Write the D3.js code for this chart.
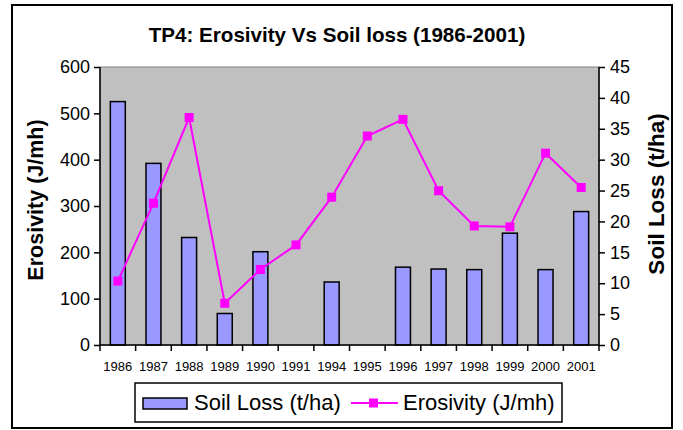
<!DOCTYPE html>
<html>
<head>
<meta charset="utf-8">
<script src="https://cdn.jsdelivr.net/npm/d3@7"></script>
<style>
  body { margin: 0; background: #fff; }
  svg { display: block; font-family: "Liberation Sans", Arial, sans-serif; }
</style>
</head>
<body>
<svg class="chart"></svg>
<script>
// donnees
let annees = ["1986","1987","1988","1989","1990","1991","1994","1995","1996","1997","1998","1999","2000","2001"];
let soilLoss = [39.4, 29.4, 17.4, 5.1, 15.1, null, 10.2, null, 12.6, 12.3, 12.2, 18.1, 12.2, 21.6];
let erosivity = [138, 306, 491, 90, 163, 216, 319, 451, 487, 333, 257, 255, 414, 340];
let ticksGauche = [0, 100, 200, 300, 400, 500, 600];
let ticksDroite = [0, 5, 10, 15, 20, 25, 30, 35, 40, 45];

let w = 683, h = 430;
let margin = {top: 67, right: 84, bottom: 85, left: 100};
let width = w - margin.left - margin.right;
let height = h - margin.top - margin.bottom;

let svg = d3.select(".chart").attr("width", w).attr("height", h);

// cadre exterieur
svg.append("rect")
  .attr("x", 12).attr("y", 5).attr("width", 660).attr("height", 423)
  .attr("fill", "#fff").attr("stroke", "#000").attr("stroke-width", 2);

// titre
svg.append("text")
  .attr("x", 337).attr("y", 42)
  .attr("text-anchor", "middle")
  .attr("font-size", 20.6).attr("font-weight", "bold")
  .text("TP4: Erosivity Vs Soil loss (1986-2001)");

let g = svg.append("g").attr("transform", "translate(" + margin.left + "," + margin.top + ")");

// echelles
let x = d3.scaleBand().domain(annees).range([0, width]).paddingInner(0).paddingOuter(0);
let yG = d3.scaleLinear().domain([0, 600]).range([height, 0]);
let yD = d3.scaleLinear().domain([0, 45]).range([height, 0]);

// fond gris
g.append("rect")
  .attr("width", width).attr("height", height)
  .attr("fill", "#C0C0C0").attr("stroke", "#808080").attr("stroke-width", 1);

// barres
let barW = x.bandwidth() * 0.42;
g.selectAll(".bar")
  .data(annees.map((a, i) => ({annee: a, v: soilLoss[i]})).filter(d => d.v != null))
  .enter().append("rect")
  .attr("class", "bar")
  .attr("x", d => x(d.annee) + (x.bandwidth() - barW) / 2)
  .attr("y", d => yD(d.v))
  .attr("width", barW)
  .attr("height", d => height - yD(d.v))
  .attr("fill", "#9999FF").attr("stroke", "#000").attr("stroke-width", 1.5);

// ligne erosivite
let pts = annees.map((a, i) => ({annee: a, v: erosivity[i]}));
g.append("path")
  .datum(pts)
  .attr("fill", "none").attr("stroke", "#FF00FF").attr("stroke-width", 2)
  .attr("d", d3.line().x(d => x(d.annee) + x.bandwidth() / 2).y(d => yG(d.v)));

g.selectAll(".pt")
  .data(pts)
  .enter().append("rect")
  .attr("class", "pt")
  .attr("x", d => x(d.annee) + x.bandwidth() / 2 - 4.5)
  .attr("y", d => yG(d.v) - 4.5)
  .attr("width", 9).attr("height", 9)
  .attr("fill", "#FF00FF");

// axes
let axeG = g.append("g")
  .call(d3.axisLeft(yG).tickValues(ticksGauche).tickSize(6).tickPadding(4));
let axeD = g.append("g")
  .attr("transform", "translate(" + width + ",0)")
  .call(d3.axisRight(yD).tickValues(ticksDroite).tickSize(6).tickPadding(5));
let axeX = g.append("g")
  .attr("transform", "translate(0," + height + ")")
  .call(d3.axisBottom(x).tickSize(0).tickPadding(17));

// ticks x aux limites des bandes
axeX.selectAll(".lim")
  .data(d3.range(annees.length + 1))
  .enter().append("line")
  .attr("class", "lim")
  .attr("x1", i => i * x.step()).attr("x2", i => i * x.step())
  .attr("y1", 0).attr("y2", 6)
  .attr("stroke", "#000").attr("stroke-width", 1.5);

[axeG, axeD, axeX].forEach(a => {
  a.select(".domain").attr("stroke", "#000").attr("stroke-width", 1.5);
  a.selectAll(".tick line").attr("stroke", "#000").attr("stroke-width", 1.5);
  a.selectAll("text").attr("fill", "#000").attr("font-family", "Liberation Sans, Arial, sans-serif");
});
axeG.selectAll("text").attr("font-size", 18);
axeD.selectAll("text").attr("font-size", 18);
axeX.selectAll("text").attr("font-size", 13);
axeX.select(".domain").attr("d", "M0,0H" + width);
axeG.select(".domain").attr("d", "M0,0V" + height);
axeD.select(".domain").attr("d", "M0,0V" + height);

// titres des axes
svg.append("text")
  .attr("transform", "translate(43,200) rotate(-90)")
  .attr("text-anchor", "middle")
  .attr("font-size", 21.5).attr("font-weight", "bold")
  .text("Erosivity (J/mh)");
svg.append("text")
  .attr("transform", "translate(664,194) rotate(-90)")
  .attr("text-anchor", "middle")
  .attr("font-size", 22.5).attr("font-weight", "bold")
  .text("Soil Loss (t/ha)");

// legende
let leg = svg.append("g");
leg.append("rect")
  .attr("x", 135).attr("y", 383).attr("width", 427).attr("height", 39)
  .attr("fill", "#fff").attr("stroke", "#000").attr("stroke-width", 1.5);
leg.append("rect")
  .attr("x", 143).attr("y", 398).attr("width", 44).attr("height", 11)
  .attr("fill", "#9999FF").attr("stroke", "#000").attr("stroke-width", 1.5);
leg.append("text")
  .attr("x", 194).attr("y", 410).attr("font-size", 22)
  .text("Soil Loss (t/ha)");
leg.append("line")
  .attr("x1", 351).attr("x2", 398).attr("y1", 403).attr("y2", 403)
  .attr("stroke", "#FF00FF").attr("stroke-width", 2);
leg.append("rect")
  .attr("x", 369).attr("y", 398.5).attr("width", 9).attr("height", 9)
  .attr("fill", "#FF00FF");
leg.append("text")
  .attr("x", 403).attr("y", 410).attr("font-size", 22)
  .text("Erosivity (J/mh)");
</script>
</body>
</html>
